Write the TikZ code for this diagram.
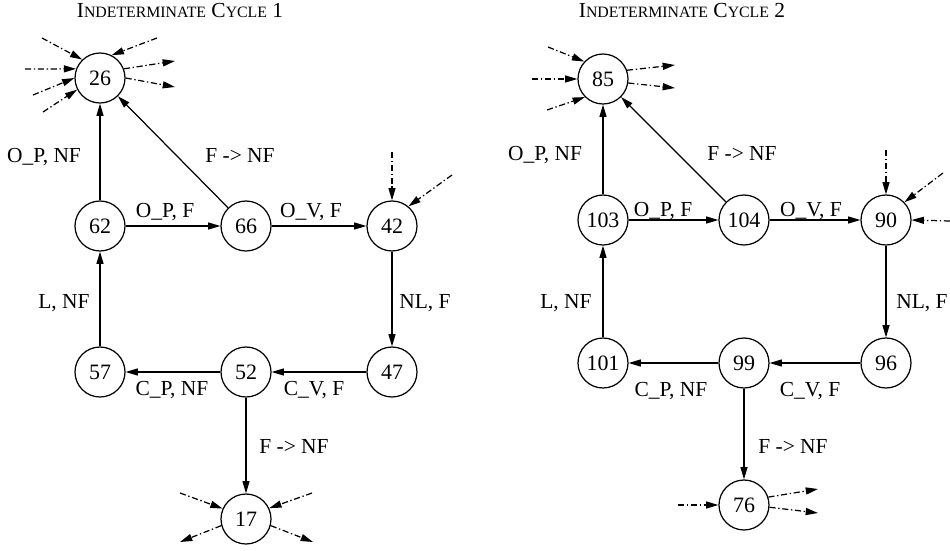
\documentclass[tikz,border=0pt]{standalone}
\usepackage{fontspec}
\setmainfont{Liberation Serif}
\usetikzlibrary{arrows.meta}
\newcommand{\smallcap}[1]{{\fontsize{9}{10}\selectfont #1}}

\begin{document}
\begin{tikzpicture}[x=0.02cm,y=-0.02cm,>={Triangle[length=7pt,width=4pt]},
 line width=0.7pt,
 state/.style={draw,circle,minimum size=1cm,inner sep=0pt,font=\fontsize{12.5}{14}\selectfont},
 lbl/.style={anchor=base,inner sep=0pt,font=\fontsize{12.2}{14}\selectfont},
 stub/.style={->,dash pattern=on 3.5pt off 1.5pt on 0.8pt off 1.5pt}]
\useasboundingbox (0,0) rectangle (950,551);

% cycle 1
\node[lbl] (title1) at (180,17) {I\smallcap{NDETERMINATE} C\smallcap{YCLE} 1};
\node[state] (n26) at (100,78) {26};
\node[state] (n62) at (100,226) {62};
\node[state] (n66) at (246,226) {66};
\node[state] (n42) at (392,226) {42};
\node[state] (n57) at (100,372) {57};
\node[state] (n52) at (246,372) {52};
\node[state] (n47) at (392,372) {47};
\node[state] (n17) at (246,519) {17};
\draw[->] (n62) -- (n26);
\draw[->] (n66) -- (n26);
\draw[->] (n62) -- (n66);
\draw[->] (n66) -- (n42);
\draw[->] (n42) -- (n47);
\draw[->] (n47) -- (n52);
\draw[->] (n52) -- (n57);
\draw[->] (n57) -- (n62);
\draw[->] (n52) -- (n17);
\node[lbl] (l62a) at (44,162) {O\_P, NF};
\node[lbl] (l66a) at (240,162) {F -> NF};
\node[lbl] (l62b) at (165,217) {O\_P, F};
\node[lbl] (l66b) at (311,217) {O\_V, F};
\node[lbl] (l57a) at (64,308) {L, NF};
\node[lbl] (l42a) at (425,308) {NL, F};
\node[lbl] (l52a) at (172,395) {C\_P, NF};
\node[lbl] (l47a) at (314,395) {C\_V, F};
\node[lbl] (l52b) at (294,453) {F -> NF};
% loose ends of cycle 1
\coordinate (s26a) at (42,38);
\coordinate (s26b) at (157,38);
\coordinate (s26c) at (25,69);
\coordinate (s26d) at (33,95);
\coordinate (s26e) at (43,112);
\coordinate (s26f) at (175,61);
\coordinate (s26g) at (175,87);
\draw[stub] (s26a) -- (n26.134);
\draw[stub] (s26b) -- (n26.63);
\draw[stub] (s26c) -- (n26.159);
\draw[stub] (s26d) -- (n26.180);
\draw[stub] (s26e) -- (n26.207);
\draw[stub] (n26.21) -- (s26f);
\draw[stub] (n26.0) -- (s26g);
\coordinate (s42a) at (392,152);
\coordinate (s42b) at (452,175);
\draw[stub] (s42a) -- (n42.90);
\draw[stub] (s42b) -- (n42.50);
\coordinate (s17a) at (180,493);
\coordinate (s17b) at (312,493);
\coordinate (s17c) at (180,542);
\coordinate (s17d) at (313,542);
\draw[stub] (s17a) -- (n17.156);
\draw[stub] (s17b) -- (n17.25);
\draw[stub] (n17.195) -- (s17c);
\draw[stub] (n17.345) -- (s17d);

% cycle 2
\node[lbl] (title2) at (682,17) {I\smallcap{NDETERMINATE} C\smallcap{YCLE} 2};
\node[state] (n85) at (603,79) {85};
\node[state] (n103) at (603,220) {103};
\node[state] (n104) at (744,220) {104};
\node[state] (n90) at (886,220) {90};
\node[state] (n101) at (603,363) {101};
\node[state] (n99) at (744,363) {99};
\node[state] (n96) at (886,363) {96};
\node[state] (n76) at (744,505) {76};
\draw[->] (n103) -- (n85);
\draw[->] (n104) -- (n85);
\draw[->] (n103) -- (n104);
\draw[->] (n104) -- (n90);
\draw[->] (n90) -- (n96);
\draw[->] (n96) -- (n99);
\draw[->] (n99) -- (n101);
\draw[->] (n101) -- (n103);
\draw[->] (n99) -- (n76);
\node[lbl] (l103a) at (545,160) {O\_P, NF};
\node[lbl] (l104a) at (742,160) {F -> NF};
\node[lbl] (l103b) at (663,216) {O\_P, F};
\node[lbl] (l104b) at (811,216) {O\_V, F};
\node[lbl] (l101a) at (566,308) {L, NF};
\node[lbl] (l90a) at (922,308) {NL, F};
\node[lbl] (l99a) at (671,396) {C\_P, NF};
\node[lbl] (l96a) at (810,396) {C\_V, F};
\node[lbl] (l99b) at (793,453) {F -> NF};
% loose ends of cycle 2
\coordinate (s85a) at (548,47);
\coordinate (s85b) at (532,79);
\coordinate (s85c) at (547,110);
\coordinate (s85d) at (675,65);
\coordinate (s85e) at (675,88);
\draw[stub] (s85a) -- (n85.137);
\draw[stub] (s85b) -- (n85.180);
\draw[stub] (s85c) -- (n85.225);
\draw[stub] (n85.20) -- (s85d);
\draw[stub] (n85.-9) -- (s85e);
\coordinate (s90a) at (886,150);
\coordinate (s90b) at (943,173);
\coordinate (s90c) at (950,221);
\draw[stub] (s90a) -- (n90.90);
\draw[stub] (s90b) -- (n90.44);
\draw[stub] (s90c) -- (n90.0);
\coordinate (s76a) at (678,505);
\coordinate (s76b) at (818,489);
\coordinate (s76c) at (818,513);
\draw[stub] (s76a) -- (n76.180);
\draw[stub] (n76.18) -- (s76b);
\draw[stub] (n76.-5) -- (s76c);
\end{tikzpicture}
\end{document}
